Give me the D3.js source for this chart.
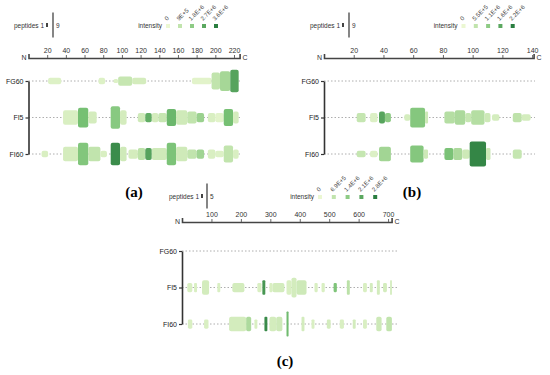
<!DOCTYPE html>
<html>
<head>
<meta charset="utf-8">
<script src="https://cdn.jsdelivr.net/npm/d3@7"></script>
<style>
  body { margin: 0; background: #fff; }
  svg { display: block; font-family: "Liberation Sans", Arial, sans-serif; }
  .caption { font-family: "Liberation Serif", serif; font-weight: bold; font-size: 15px; }
</style>
</head>
<body>
<svg id="chart" width="550" height="375"></svg>
<script>
// rows shared by all panels
const rows = ["FG60", "FI5", "FI60"];

// segments: [start, end, peptides, intensity (x1e6)]
const aFG60 = [[21,35,2,0.3],[75,82,2,0.3],[91,96,1,0.3],[96,111,3,0.8],[111,126,2,0.5],[175,196,2,0.2],[196,205,6,0.9],[205,216,7,1.4],[216,225,8,2.8]];
const aFI5 = [[37,53,5,0.4],[53,64,7,2.2],[64,73,4,0.5],[88,98,8,1.9],[98,105,5,0.5],[117,125,3,0.6],[125,132,3,2.6],[132,139,3,0.5],[139,148,3,0.8],[148,158,6,2.4],[158,170,5,0.6],[170,180,4,0.9],[180,188,3,1.6],[192,200,3,0.4],[200,209,3,0.2],[209,219,6,2.2],[219,225,4,0.5]];
const aFI60 = [[14,21,2,0.4],[37,53,5,0.5],[53,64,8,2.0],[64,77,5,0.9],[77,84,2,0.4],[88,98,8,3.3],[98,105,5,0.6],[107,117,3,0.5],[117,125,4,1.0],[125,132,4,2.8],[132,148,4,0.6],[148,158,8,2.1],[158,170,5,0.6],[170,180,3,0.9],[180,188,3,1.5],[192,200,3,0.4],[200,209,2,0.3],[209,219,6,0.9],[219,225,3,0.4]];

const bFG60 = [];
const bFI5 = [[22,28,3,0.5],[31,36,3,0.2],[37,41,4,1.7],[41,45,3,1.1],[54,58,2,0.3],[58,68,7,1.2],[68,70,4,0.4],[81,88,4,0.7],[88,95,5,0.8],[95,99,3,0.5],[99,108,5,0.7],[108,112,3,0.4],[113,118,2,0.3],[127,133,3,0.6],[133,139,2,0.3]];
const bFI60 = [[22,28,2,0.5],[31,36,2,0.2],[37,45,5,0.9],[58,67,6,1.2],[67,70,3,0.4],[81,87,4,1.3],[87,93,4,0.8],[93,98,3,0.4],[98,109,9,2.1],[109,112,4,0.4],[127,133,3,0.5]];

const cFG60 = [];
const cFI5 = [[18,35,2,0.3],[41,51,2,0.3],[68,92,3,0.4],[120,130,2,0.3],[171,212,2,0.4],[256,270,2,0.3],[273,283,3,2.4],[297,307,2,0.3],[307,348,2,0.4],[355,372,3,0.3],[372,389,4,0.4],[389,423,3,0.5],[450,461,2,0.3],[474,485,2,0.3],[515,526,2,1.6],[560,570,3,0.8],[615,628,2,0.3],[638,648,2,0.4],[662,672,3,0.4],[683,696,2,0.4],[707,713,3,0.4]];
const cFI60 = [[20,35,2,0.3],[75,90,2,0.3],[160,218,3,0.4],[218,235,3,1.0],[246,256,2,0.3],[280,290,3,2.6],[297,320,3,0.4],[320,341,3,0.5],[355,362,5,1.8],[406,416,3,0.4],[440,450,2,0.3],[492,505,2,0.4],[536,550,2,0.3],[580,590,2,0.4],[615,628,2,0.3],[660,678,3,0.5],[694,713,3,0.7]];

// axis ticks and legend labels
const aTicks = [20,40,60,80,100,120,140,160,180,200,220];
const bTicks = [20,40,60,80,100,120,140];
const cTicks = [100,200,300,400,500,600,700];
const aLegend = ["0","9E+5","1.8E+6","2.7E+6","3.6E+6"];
const bLegend = ["0","5.5E+5","1.1E+6","1.6E+6","2.2E+6"];
const cLegend = ["0","6.9E+5","1.4E+6","2.1E+6","2.8E+6"];
const aMax = [226, 9, 3.6];
const bMax = [141, 9, 2.2];
const cMax = [712, 5, 2.8];

const svg = d3.select("#chart");

const panels = [
  { data: [aFG60, aFI5, aFI60], ticks: aTicks, legend: aLegend, max: aMax, caption: "(a)",
    x0: 28.5, x1: 239.6, lineEnd: 241, axisY: 58, rowTop: 81, rowBot: 154,
    legY: 25, pepBar: 47, pepLine: 53, intX: 168, intStep: 12, capX: 134, capY: 197 },
  { data: [bFG60, bFI5, bFI60], ticks: bTicks, legend: bLegend, max: bMax, caption: "(b)",
    x0: 324, x1: 533.6, lineEnd: 535, axisY: 58, rowTop: 81, rowBot: 154,
    legY: 25, pepBar: 343, pepLine: 349, intX: 463.5, intStep: 12.3, capX: 412, capY: 197 },
  { data: [cFG60, cFI5, cFI60], ticks: cTicks, legend: cLegend, max: cMax, caption: "(c)",
    x0: 182, x1: 391.6, lineEnd: 397, axisY: 222, rowTop: 251, rowBot: 324,
    legY: 196, pepBar: 202, pepLine: 207, intX: 320, intStep: 13.8, capX: 285, capY: 366 }
];

panels.forEach(drawPanel);

function drawPanel(p) {
  const g = svg.append("g");
  const [len, maxPep, maxInt] = p.max;

  const x = d3.scaleLinear().domain([0, len]).range([p.x0, p.x1]);
  const y = d3.scalePoint().domain(rows).range([p.rowTop, p.rowBot]);
  const h = d3.scaleLinear().domain([1, maxPep]).range([4, 25]);
  const color = d3.scaleLinear()
    .domain([0, 0.3, 0.62, 1].map(d => d * maxInt))
    .range(["#ebf7d2", "#b9e0a6", "#74bf72", "#2a7e40"])
    .interpolate(d3.interpolateLab)
    .clamp(true);

  // sequence axis
  const ax = g.append("g")
    .attr("transform", `translate(0,${p.axisY})`)
    .call(d3.axisTop(x).tickValues(p.ticks).tickSize(3).tickSizeOuter(4).tickPadding(2));
  ax.select(".domain").attr("stroke", "#444").attr("stroke-width", 1.6);
  ax.selectAll(".tick line").attr("stroke", "#666");
  ax.selectAll("text").attr("font-size", 7).attr("fill", "#333").attr("font-family", "Liberation Sans, Arial");
  g.append("text").attr("x", p.x0 - 2).attr("y", p.axisY + 2)
    .attr("text-anchor", "end").attr("font-size", 7).attr("fill", "#333").text("N");
  g.append("text").attr("x", p.x1 + 3).attr("y", p.axisY + 2)
    .attr("font-size", 7).attr("fill", "#333").text("C");

  // dotted row lines
  g.selectAll(".row-line").data(rows).join("line")
    .attr("x1", p.x0).attr("x2", p.lineEnd)
    .attr("y1", d => y(d)).attr("y2", d => y(d))
    .attr("stroke", "#999").attr("stroke-width", 0.8).attr("stroke-dasharray", "1.5,2");

  // row axis
  const ay = g.append("g")
    .attr("transform", `translate(${p.x0},0)`)
    .call(d3.axisLeft(y).tickSize(3).tickSizeOuter(0).tickPadding(2));
  ay.select(".domain").attr("stroke", "#333").attr("stroke-width", 1.6);
  ay.selectAll(".tick line").attr("stroke", "#333").attr("stroke-width", 1.2);
  ay.selectAll("text").attr("font-size", 7).attr("fill", "#222").attr("font-family", "Liberation Sans, Arial");

  // peptide coverage blocks
  rows.forEach((r, i) => {
    g.append("g").selectAll("rect").data(p.data[i]).join("rect")
      .attr("x", d => x(d[0]))
      .attr("width", d => Math.max(1.5, x(d[1]) - x(d[0])))
      .attr("y", d => y(r) - h(d[2]) / 2)
      .attr("height", d => h(d[2]))
      .attr("rx", d => Math.min(2, (x(d[1]) - x(d[0])) / 3))
      .attr("fill", d => color(d[3]));
  });

  // peptides legend
  g.append("text").attr("x", p.pepBar - 3).attr("y", p.legY + 2.5)
    .attr("text-anchor", "end").attr("font-size", 6.5).attr("fill", "#333").text("peptides 1");
  g.append("rect").attr("x", p.pepBar - 1).attr("width", 2)
    .attr("y", p.legY - h(1) / 2).attr("height", h(1)).attr("fill", "#444");
  g.append("line").attr("x1", p.pepLine).attr("x2", p.pepLine)
    .attr("y1", p.legY - h(maxPep) / 2).attr("y2", p.legY + h(maxPep) / 2)
    .attr("stroke", "#444").attr("stroke-width", 1.3);
  g.append("text").attr("x", p.pepLine + 3).attr("y", p.legY + 2.5)
    .attr("font-size", 6.5).attr("fill", "#333").text(maxPep);

  // intensity legend
  const legVals = p.legend.map((d, i) => i / (p.legend.length - 1) * maxInt);
  g.append("text").attr("x", p.intX - 6).attr("y", p.legY + 2.5)
    .attr("text-anchor", "end").attr("font-size", 6.5).attr("fill", "#333").text("intensity");
  const items = g.selectAll(".leg").data(p.legend).join("g")
    .attr("transform", (d, i) => `translate(${p.intX + i * p.intStep},${p.legY + 1})`);
  items.append("rect").attr("x", -2).attr("y", -2).attr("width", 4).attr("height", 4)
    .attr("fill", (d, i) => color(legVals[i]));
  items.append("text").attr("transform", "translate(-1,-5) rotate(-45)")
    .attr("font-size", 6).attr("fill", "#444").text(d => d);

  // caption
  svg.append("text").attr("class", "caption")
    .attr("x", p.capX).attr("y", p.capY).attr("text-anchor", "middle").text(p.caption);
}
</script>
</body>
</html>
